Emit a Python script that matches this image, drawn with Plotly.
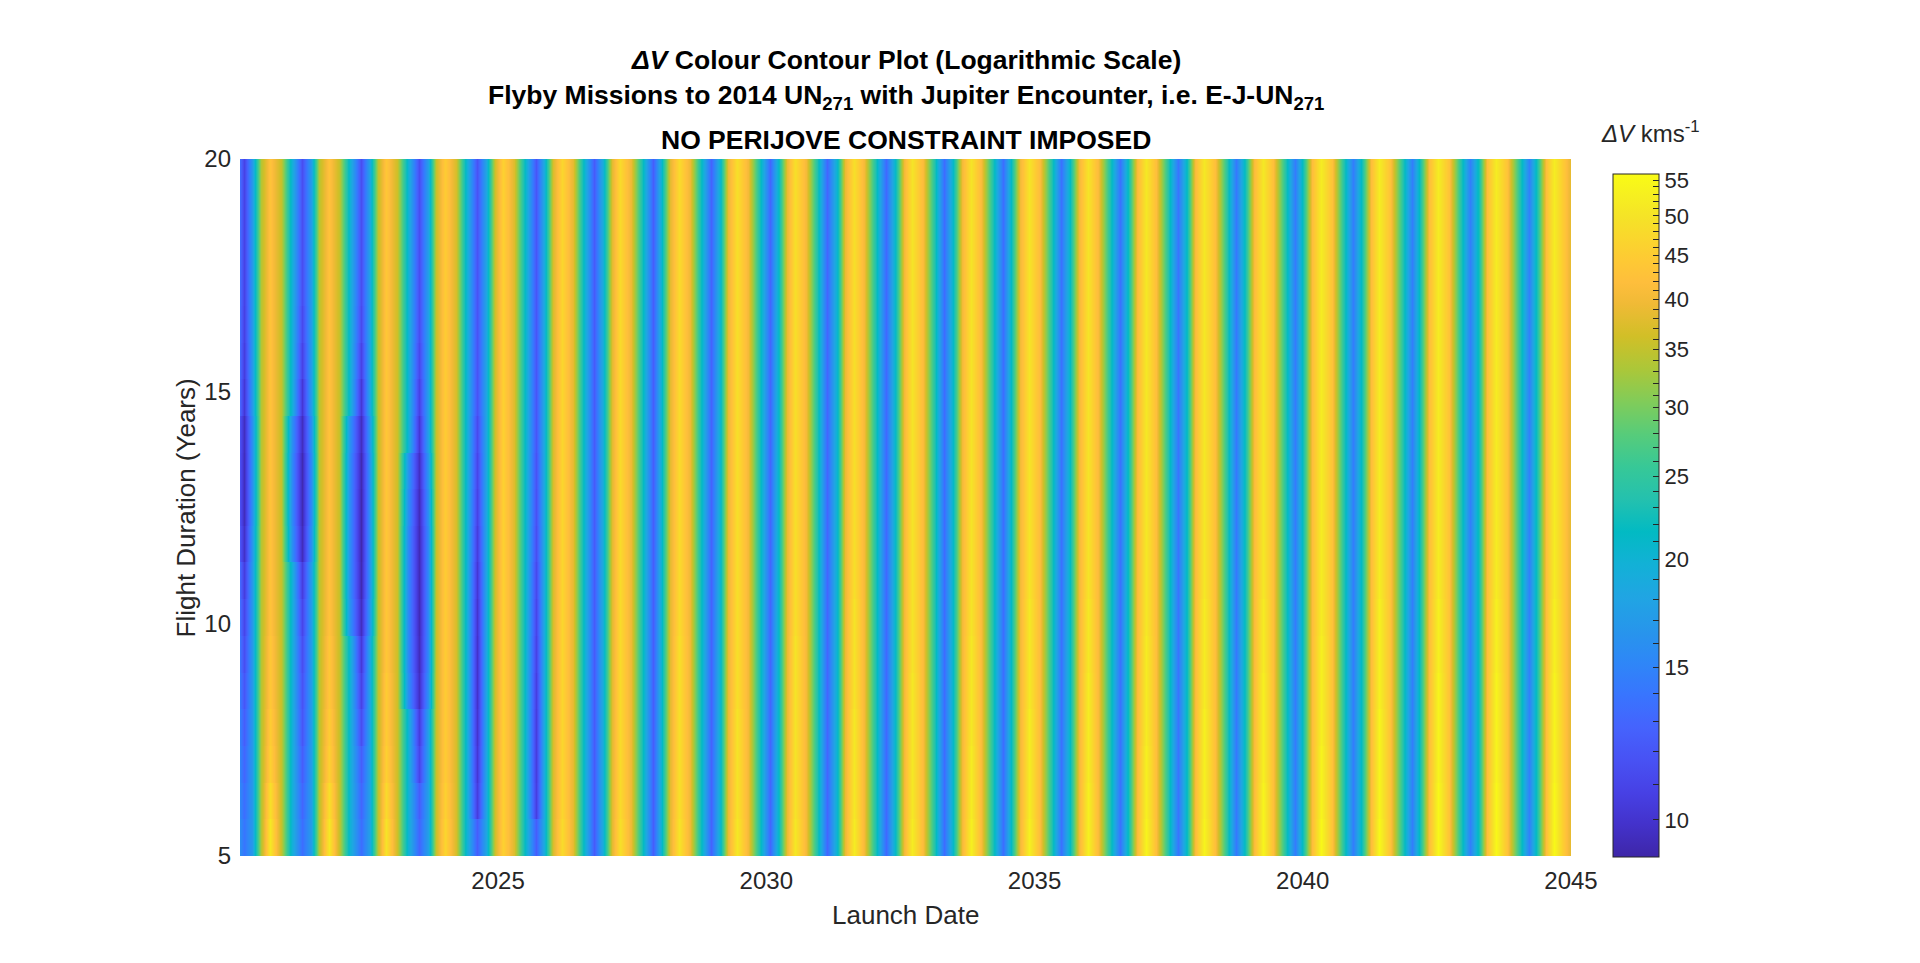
import numpy as np
import plotly.graph_objects as go

# launch dates sampled through each synodic cycle (peak, fall, fall, trough, rise, rise)
launch_date = [
    2020.06, 2020.26, 2020.42, 2020.58,
    2020.75, 2020.95, 2021.15, 2021.35, 2021.51, 2021.67,
    2021.84, 2022.04, 2022.24, 2022.44, 2022.60, 2022.76,
    2022.92, 2023.12, 2023.32, 2023.52, 2023.69, 2023.85,
    2024.01, 2024.21, 2024.41, 2024.61, 2024.78, 2024.94,
    2025.10, 2025.30, 2025.50, 2025.70, 2025.86, 2026.03,
    2026.19, 2026.39, 2026.59, 2026.79, 2026.95, 2027.12,
    2027.28, 2027.48, 2027.68, 2027.88, 2028.04, 2028.20,
    2028.37, 2028.57, 2028.77, 2028.97, 2029.13, 2029.29,
    2029.46, 2029.66, 2029.86, 2030.06, 2030.22, 2030.38,
    2030.54, 2030.74, 2030.94, 2031.14, 2031.31, 2031.47,
    2031.63, 2031.83, 2032.03, 2032.23, 2032.40, 2032.56,
    2032.72, 2032.92, 2033.12, 2033.32, 2033.48, 2033.65,
    2033.81, 2034.01, 2034.21, 2034.41, 2034.57, 2034.73,
    2034.90, 2035.10, 2035.30, 2035.50, 2035.66, 2035.82,
    2035.99, 2036.19, 2036.39, 2036.59, 2036.75, 2036.91,
    2037.07, 2037.27, 2037.47, 2037.67, 2037.84, 2038.00,
    2038.16, 2038.36, 2038.56, 2038.76, 2038.93, 2039.09,
    2039.25, 2039.45, 2039.65, 2039.85, 2040.01, 2040.18,
    2040.34, 2040.54, 2040.74, 2040.94, 2041.10, 2041.27,
    2041.43, 2041.63, 2041.83, 2042.03, 2042.19, 2042.35,
    2042.52, 2042.72, 2042.92, 2043.12, 2043.28, 2043.44,
    2043.61, 2043.81, 2044.01, 2044.21, 2044.37, 2044.53,
    2044.69, 2044.89, 2045.09,
]

# delta-V (km/s) along launch date for the long flight durations
dv_long = [
    19.0, 10.8, 16.8, 34.0,
    43.0, 35.3, 19.6, 11.5, 17.2, 34.4,
    43.0, 35.3, 19.8, 11.5, 17.4, 35.0,
    44.0, 36.0, 20.0, 11.5, 17.6, 35.7,
    45.0, 36.8, 20.6, 11.8, 18.2, 36.5,
    46.0, 37.6, 21.2, 12.0, 18.8, 37.3,
    47.0, 38.4, 22.0, 12.3, 19.4, 38.1,
    48.0, 39.2, 22.9, 12.5, 20.0, 38.2,
    48.0, 39.4, 23.2, 12.8, 20.5, 39.0,
    49.0, 40.2, 23.6, 13.0, 20.7, 39.1,
    49.0, 40.2, 23.6, 13.0, 20.7, 39.1,
    49.0, 40.3, 23.8, 13.2, 21.0, 39.9,
    50.0, 41.0, 24.2, 13.4, 21.3, 40.0,
    50.0, 41.1, 24.3, 13.5, 21.4, 40.0,
    50.0, 41.2, 24.5, 13.7, 21.6, 40.1,
    50.0, 41.2, 24.6, 13.8, 21.8, 40.8,
    51.0, 42.0, 25.1, 14.0, 22.0, 40.9,
    51.0, 42.1, 25.2, 14.2, 22.2, 41.0,
    51.0, 42.2, 25.4, 14.4, 22.6, 41.8,
    52.0, 42.9, 25.8, 14.5, 22.7, 41.8,
    52.0, 43.0, 25.9, 14.6, 22.8, 41.9,
    52.0, 43.0, 26.0, 14.7, 22.9, 42.0,
    52.0, 43.1, 26.1, 14.8, 23.0, 42.0,
    52.0, 43.1, 34.0,
]

# flight-duration grid (years), block edges
duration_edges = [5.00, 5.79, 6.58, 7.37, 8.16, 8.95, 9.74, 10.53, 11.32, 12.11,
                  12.89, 13.68, 14.47, 15.26, 16.05, 16.84, 17.63, 18.42, 19.21, 20.00]

# early launch windows: trough delta-V per duration block (bottom block first)
trough_date = [2020.26, 2021.35, 2022.44, 2023.52, 2024.61, 2025.70]
trough_dv = [
    [14.0, 13.5, 13.5, 13.0, 12.5, 12.5],
    [13.5, 13.0, 13.0, 12.5, 10.5, 10.6],
    [13.0, 12.5, 12.5, 11.0, 10.2, 10.5],
    [12.5, 12.0, 11.5, 10.5, 10.0, 10.5],
    [12.0, 11.8, 10.8, 9.7, 9.9, 10.6],
    [11.5, 11.5, 10.3, 9.5, 9.9, 10.8],
    [11.0, 11.0, 9.6, 9.4, 10.0, 11.0],
    [10.5, 10.5, 9.3, 9.4, 10.2, 11.2],
    [9.8, 9.5, 9.2, 9.4, 10.5, 11.5],
    [9.5, 9.3, 9.2, 9.5, 10.8, 11.7],
    [9.5, 9.3, 9.3, 9.7, 11.0, 11.8],
    [9.6, 9.6, 9.6, 10.2, 11.3, 12.0],
    [10.2, 10.2, 10.2, 10.8, 11.8, 12.0],
    [10.5, 10.8, 10.8, 11.2, 11.8, 12.0],
    [10.7, 11.2, 11.3, 11.5, 11.8, 12.0],
    [10.8, 11.5, 11.5, 11.5, 11.8, 12.0],
    [10.8, 11.5, 11.5, 11.5, 11.8, 12.0],
    [10.8, 11.5, 11.5, 11.5, 11.8, 12.0],
    [10.8, 11.5, 11.5, 11.5, 11.8, 12.0],
]
# delta-V on both sides of the deepest troughs (None: same as the long-duration profile)
trough_side_dv = [
    [None, None, None, None, None, None],
    [None, None, None, None, None, None],
    [None, None, None, None, None, None],
    [None, None, None, None, None, None],
    [None, None, None, 16.0, None, None],
    [None, None, None, 15.5, None, None],
    [None, None, 16.0, 15.5, None, None],
    [None, None, 15.5, 15.5, None, None],
    [16.5, 16.0, 15.5, 15.5, None, None],
    [16.0, 15.5, 15.5, 16.0, None, None],
    [16.0, 15.5, 15.5, 16.5, None, None],
    [16.0, 16.0, 16.0, None, None, None],
    [None, None, None, None, None, None],
    [None, None, None, None, None, None],
    [None, None, None, None, None, None],
    [None, None, None, None, None, None],
    [None, None, None, None, None, None],
    [None, None, None, None, None, None],
    [None, None, None, None, None, None],
]

# peak delta-V for the short flight durations (bottom seven blocks)
peak_date = [2020.75, 2021.84, 2022.92, 2024.01, 2025.10, 2026.19, 2027.28, 2028.37,
             2029.46, 2030.54, 2031.63, 2032.72, 2033.81, 2034.90, 2035.99, 2037.07,
             2038.16, 2039.25, 2040.34, 2041.43, 2042.52, 2043.61, 2044.69]
peak_dv_short = [
    [51, 51, 50, 47, 46, 48, 49, 50, 51, 51, 52, 52, 53, 53, 53, 54, 54, 54, 55, 55, 55, 55, 55],
    [49, 49, 48, 46, 46, 47, 48, 49, 50, 50, 51, 51, 52, 52, 53, 53, 53, 54, 54, 54, 55, 55, 55],
    [46, 46, 46, 45, 46, 47, 48, 49, 50, 50, 51, 51, 52, 52, 52, 53, 53, 53, 54, 54, 54, 54, 54],
    [45, 45, 45, 45, 46, 47, 48, 49, 50, 50, 51, 51, 51, 52, 52, 52, 53, 53, 53, 54, 54, 54, 54],
    [44, 44, 45, 45, 46, 47, 48, 49, 49, 50, 50, 51, 51, 51, 52, 52, 52, 53, 53, 53, 54, 54, 54],
    [44, 44, 44, 45, 46, 47, 48, 49, 49, 50, 50, 50, 51, 51, 51, 52, 52, 52, 53, 53, 53, 53, 53],
    [43, 43, 44, 45, 46, 47, 48, 48, 49, 49, 50, 50, 50, 51, 51, 51, 52, 52, 52, 53, 53, 53, 53],
]

cbar_values = list(range(10, 56))
cbar_labels = [str(v) if v % 5 == 0 else "" for v in cbar_values]

# MATLAB parula
parula = [
    [0.000, "rgb(62,38,168)"], [0.048, "rgb(67,50,203)"], [0.095, "rgb(71,65,229)"],
    [0.143, "rgb(72,82,244)"], [0.190, "rgb(69,99,253)"], [0.238, "rgb(56,117,254)"],
    [0.286, "rgb(46,135,247)"], [0.333, "rgb(39,150,235)"], [0.381, "rgb(32,165,227)"],
    [0.429, "rgb(18,177,214)"], [0.476, "rgb(2,186,195)"], [0.524, "rgb(36,193,174)"],
    [0.571, "rgb(55,200,151)"], [0.619, "rgb(87,204,122)"], [0.667, "rgb(129,204,89)"],
    [0.714, "rgb(171,199,57)"], [0.762, "rgb(209,191,39)"], [0.810, "rgb(240,186,54)"],
    [0.841, "rgb(254,190,60)"], [0.873, "rgb(254,201,52)"], [0.905, "rgb(250,214,45)"],
    [0.937, "rgb(245,227,39)"], [0.968, "rgb(246,239,32)"], [1.000, "rgb(249,251,21)"],
]

# build the grid: each duration block is held flat in y, smooth along launch date
rows = []
for r in range(len(duration_edges) - 1):
    row = list(dv_long)
    for d, v, side in zip(trough_date, trough_dv[r], trough_side_dv[r]):
        i = launch_date.index(d)
        row[i] = v
        if side is not None:
            if i > 0:
                row[i - 1] = side
            row[i + 1] = side
    if r < len(peak_dv_short):
        for d, v in zip(peak_date, peak_dv_short[r]):
            row[launch_date.index(d)] = v
    rows.append(row)

y, dv = [], []
for r, row in enumerate(rows):
    lo, hi = duration_edges[r], duration_edges[r + 1]
    y += [lo + 0.002, hi - 0.002]
    dv += [row, row]
dv = np.array(dv)

FONT = "Liberation Sans, Arial, sans-serif"
INK = "#262626"

fig = go.Figure(
    go.Heatmap(
        x=launch_date,
        y=y,
        z=np.log10(dv),
        customdata=dv,
        zsmooth="best",
        colorscale=parula,
        zmin=np.log10(9.06),
        zmax=np.log10(55.9),
        hovertemplate="Launch %{x:.2f}<br>Duration %{y:.1f} yr<br>ΔV %{customdata:.1f} km/s<extra></extra>",
        colorbar=dict(
            x=1.0316, xanchor="left", xpad=0,
            y=0.4885, yanchor="middle", ypad=0,
            len=683, lenmode="pixels", thickness=46,
            outlinewidth=1, outlinecolor=INK,
            tickvals=np.log10(cbar_values), ticktext=cbar_labels,
            ticks="inside", ticklen=6, tickwidth=1, tickcolor=INK,
            tickfont=dict(family=FONT, size=22, color=INK),
        ),
    )
)

annotations = [
    dict(text="<b><i>ΔV</i> Colour Contour Plot (Logarithmic Scale)</b>", y=1.142),
    dict(text="<b>Flyby Missions to 2014 UN<sub>271</sub> with Jupiter Encounter, i.e. E-J-UN<sub>271</sub></b>",
         y=1.089),
    dict(text="<b>NO PERIJOVE CONSTRAINT IMPOSED</b>", y=1.0273),
]
for a in annotations:
    fig.add_annotation(x=0.5, xref="paper", yref="paper", xanchor="center", yanchor="middle",
                       showarrow=False, font=dict(family=FONT, size=26.5, color="#000000"), **a)

fig.add_annotation(text="Launch Date", x=0.5, y=-0.0846, xref="paper", yref="paper",
                   xanchor="center", yanchor="middle", showarrow=False,
                   font=dict(family=FONT, size=26, color=INK))
fig.add_annotation(text="Flight Duration (Years)", x=-0.0406, y=0.5, xref="paper", yref="paper",
                   xanchor="center", yanchor="middle", textangle=-90, showarrow=False,
                   font=dict(family=FONT, size=26, color=INK))
fig.add_annotation(text="<i>ΔV</i> kms<sup>-1</sup>", x=1.0594, y=1.0387, xref="paper", yref="paper",
                   xanchor="center", yanchor="middle", showarrow=False,
                   font=dict(family=FONT, size=24, color=INK))

fig.update_xaxes(range=[2020.19, 2045.0], tickvals=[2025, 2030, 2035, 2040, 2045],
                 ticks="", ticklabelstandoff=8, showgrid=False, zeroline=False, showline=False,
                 tickfont=dict(family=FONT, size=24, color=INK))
fig.update_yaxes(range=[5, 20], tickvals=[5, 10, 15, 20],
                 ticks="", ticklabelstandoff=8, showgrid=False, zeroline=False, showline=False,
                 tickfont=dict(family=FONT, size=24, color=INK))

# page body adds an 8 px offset, so margins are set 8 px smaller on the top/left
fig.update_layout(
    width=1920, height=963,
    margin=dict(l=232, r=357, t=151, b=115),
    paper_bgcolor="white", plot_bgcolor="white",
    font=dict(family=FONT, color=INK),
)

fig.write_html("out.html")
